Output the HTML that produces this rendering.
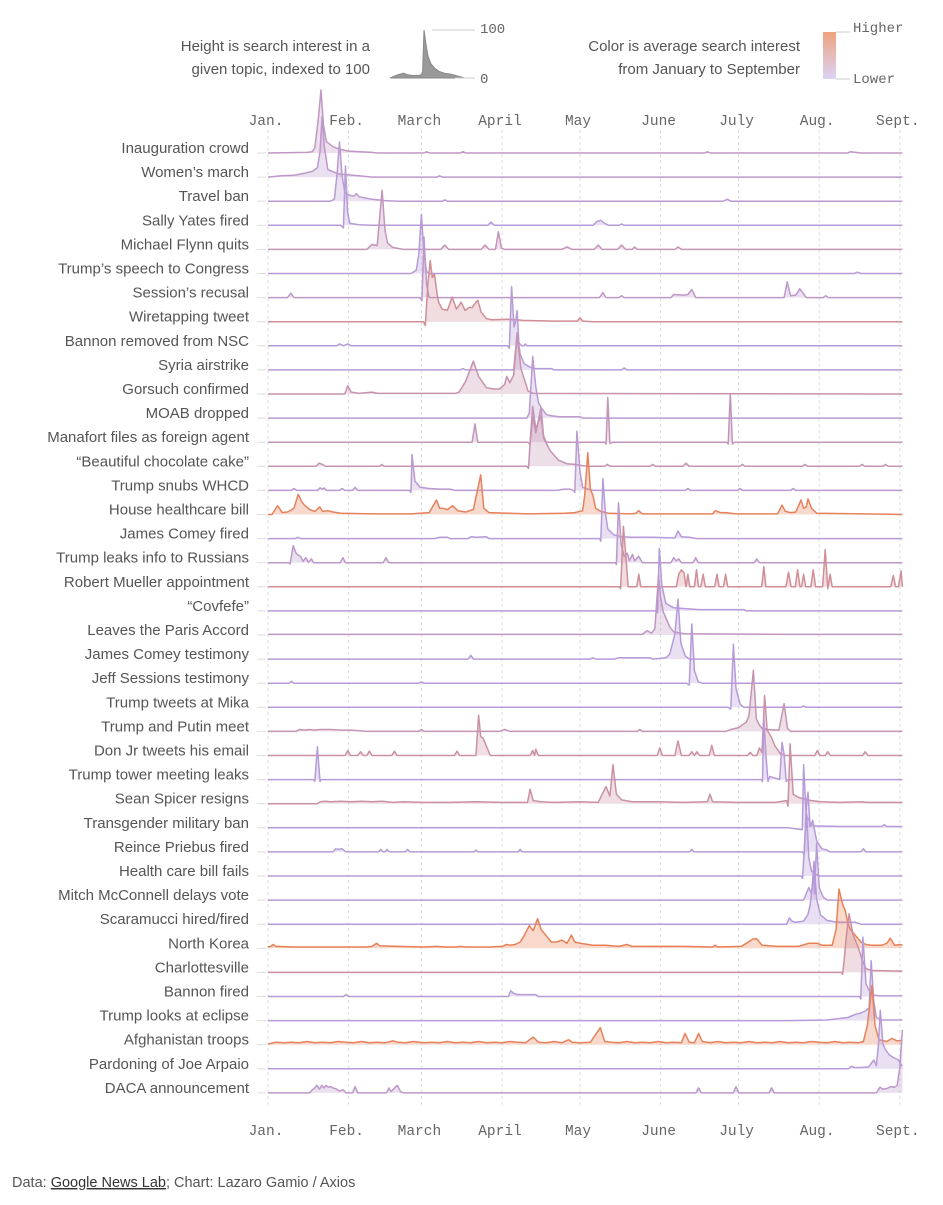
<!DOCTYPE html>
<html><head><meta charset="utf-8">
<style>
html,body{margin:0;padding:0;background:#fff;}
body{width:943px;height:1200px;overflow:hidden;font-family:"Liberation Sans",sans-serif;}
svg text{font-family:"Liberation Sans",sans-serif;}
.mono{font-family:"Liberation Mono",monospace;}
</style></head>
<body>
<svg id="chart" width="943" height="1200" viewBox="0 0 943 1200" xmlns="http://www.w3.org/2000/svg">
  <g id="legend">
    <text x="370" y="51" text-anchor="end" font-size="15" fill="#555">Height is search interest in a</text>
    <text x="370" y="74" text-anchor="end" font-size="15" fill="#555">given topic, indexed to 100</text>
    <g id="legendMini"></g>
    <line x1="432" y1="30" x2="475" y2="30" stroke="#ccc"/>
    <line x1="455" y1="78" x2="475" y2="78" stroke="#ccc"/>
    <text class="mono" x="480" y="33" font-size="14" fill="#666">100</text>
    <text class="mono" x="480" y="83" font-size="14" fill="#666">0</text>
    <text x="800" y="51" text-anchor="end" font-size="15" fill="#555">Color is average search interest</text>
    <text x="800" y="74" text-anchor="end" font-size="15" fill="#555">from January to September</text>
    <defs><linearGradient id="cg" x1="0" y1="0" x2="0" y2="1"><stop offset="0" stop-color="#eea27e"/><stop offset="1" stop-color="#dcd3f6"/></linearGradient></defs>
    <rect x="823" y="32" width="13" height="47" fill="url(#cg)"/>
    <line x1="836" y1="32" x2="850" y2="32" stroke="#ccc"/>
    <line x1="836" y1="79" x2="850" y2="79" stroke="#ccc"/>
    <text class="mono" x="853" y="32" font-size="14" fill="#666">Higher</text>
    <text class="mono" x="853" y="83" font-size="14" fill="#666">Lower</text>
  </g>
  <g id="grid"></g>
  <g id="axisTop"></g>
  <g id="axisBottom"></g>
  <g id="rows"></g>
  <text x="12" y="1187" font-size="14.5" fill="#555">Data: <tspan text-decoration="underline" fill="#333">Google News Lab</tspan>; Chart: Lazaro Gamio / Axios</text>
</svg>
<script>
const monthLabels = ["Jan.","Feb.","March","April","May","June","July","Aug.","Sept."];
const monthDays = [0,31,59,90,120,151,181,212,243];
const labels = ["Inauguration crowd","Women\u2019s march","Travel ban","Sally Yates fired","Michael Flynn quits","Trump\u2019s speech to Congress","Session\u2019s recusal","Wiretapping tweet","Bannon removed from NSC","Syria airstrike","Gorsuch confirmed","MOAB dropped","Manafort files as foreign agent","\u201cBeautiful chocolate cake\u201d","Trump snubs WHCD","House healthcare bill","James Comey fired","Trump leaks info to Russians","Robert Mueller appointment","\u201cCovfefe\u201d","Leaves the Paris Accord","James Comey testimony","Jeff Sessions testimony","Trump tweets at Mika","Trump and Putin meet","Don Jr tweets his email","Trump tower meeting leaks","Sean Spicer resigns","Transgender military ban","Reince Priebus fired","Health care bill fails","Mitch McConnell delays vote","Scaramucci hired/fired","North Korea","Charlottesville","Bannon fired","Trump looks at eclipse","Afghanistan troops","Pardoning of Joe Arpaio","DACA announcement"];
const avgInterest = [.25,.2,.15,.1,.3,.1,.2,.55,.1,.1,.4,.15,.3,.35,.15,.95,.1,.2,.55,.1,.25,.1,.1,.1,.35,.45,.1,.45,.1,.1,.1,.1,.1,1,.5,.1,.1,.95,.1,.2];
const legendSample = [0,0, 10,6, 20,10, 25,7, 35,5, 45,6, 48,12, 50,100, 53,70, 56,45, 60,30, 66,20, 72,14, 80,10, 90,8, 100,4, 110,0];

const s00=[15,1,17,2,18,8,19.5,60,20.4,100,21.3,45,22.5,18,25,10,27.5,6,31,3,40,1,42,0,60,0,61,2,62,0,74,0,75,2,76,0,168,0,169,2,170,0,223,0,224,2,226,1,228,0];
const s01=[5,2,10,3,14,6,17,9,19,15,20,40,20.8,96,21.6,50,23,12,27,5,35,2,40,0,65,0,66,2,67,0];
const s02=[24,0,25.5,3,26.5,40,27.5,94,28.5,40,29.5,15,31,10,33,8,34,12,35,7,40,3,45,1,50,0,67,0,68,2,69,0,175,0,176.7,3,178,0];
const s03=[28,0,29,-4,29.8,94,30.6,20,31.5,3,35,1,40,0,84.5,0,85.8,5,87,0,125,0,126.5,6,128,8,129.5,3,131,0,135,0,136,2,137,0];
const s04=[38,0,40,8,42,6,43.9,94,45,30,46,10,48,3,52,0,66.5,0,68,7,69.5,0,82,0,83.5,7,85,0,87.5,0,88.6,28,89.8,2,91,0,113,0,115,4,117,0,125.5,0,127,7,128.5,0,134.5,0,136,7,137.5,0,140,0,141,4,142,0,156.5,0,157.7,4,159,0];
const s05=[55,0,57,5,58,30,59,94,60,30,61,3,62,0,225.5,0,226.7,2,228,0];
const s06=[7.5,0,8.8,7,10,0,58.5,0,59.2,-5,60,96,61,20,62,0,127.5,0,128.8,8,130,0,135,0,136,3,137,0,155,0,156,5,160,4,161.5,5,163,13,164.5,0,198.5,0,199.7,25,201,3,203,4,204.5,14,206,6,207,0,213.5,0,214.5,3,215.5,0];
const s07=[59.8,0,60.5,-6,61.5,60,62.4,97,63.2,70,64,76,65,45,65.6,31,67,20,69,18,70.8,39,72.5,20,74.3,31,75.8,18,77.5,23,78.5,22,79.8,30,80.7,34,82,15,84,5,86,3,92,4,96,3,98,2,110,1,119,1,120,6,121,1,125,0];
const s08=[26.5,0,27.5,3,29,0,30.7,3,32,0,92.2,0,92.8,-4,93.7,94,94.6,30,95.3,40,95.8,56,96.5,5,97.5,0,98.5,0,99,3,99.5,0];
const s09=[74,0,75,2,76,0,94.5,0,95.8,59,97,25,98.5,10,100.5,5,103,2,109,2,110,0,136,0,137,3,138,0];
const s10=[29.5,0,30.7,13,32,3,35,1,40,3,42,1,72,1,73.5,3,76,20,79,52,81,28,84,10,87,8,89,8,91,15,91.8,28,93,18,94.5,30,95.8,94,97.3,40,99,18,100,5,102,1];
const s11=[99.5,0,100.5,8,101.8,98,103,50,104,25,105,17,107,6,108.5,4,112,2,120,2,121,0];
const s12=[78.5,0,79.6,29,80.7,0,100,0,100.8,-4,101.8,40,103,15,105,55,106,10,107,0,129.5,0,130,-3,130.7,71,131.5,-2,132.5,0,176.5,0,177,-3,177.8,77,178.6,-3,179.5,0];
const s13=[18.5,0,19.6,5,21,3,22,0,43,0,43.8,3,44.6,0,99.5,0,100.2,-3,101,50,101.8,95,103,60,104,70,105,80,106,45,108.5,25,111.6,10,115,4,118,3,121,1,124,0,129.5,0,130.5,3,131.5,0,147,0,148,3,149,0,159.5,0,160.8,5,162,0,181.5,0,182.5,3,183.5,0,205.5,0,206.5,3,207.5,0,227.5,0,228.5,3,229.5,0,236.5,0,237.5,3,238.5,0];
const s14=[9,0,10,3,11,0,19,0,20,4,21,2,21.5,4,22.5,0,27.5,0,28.5,3,29.5,0,32.5,0,33.5,5,34.5,0,54.5,0,55,-3,55.4,57,56.5,15,58.5,5,62,3,66,2,70,2,72,0,111,0,114,2,116,2,117.5,0,118,-3,118.8,94,120,30,121,5,123,2,125,0,160.5,0,161.5,3,162.5,0,180.5,0,181.5,3,182.5,0,201,0,202,3,203,0];
const s15=[1.5,0,3.7,14,5.5,3,7.5,4,8.8,7,10,10,11.6,32,13,20,14,15,16,8,18,5,19.9,12,21,5,23,6,25,4,28,2,40,1,55,1,62,3,64.8,23,66,10,67,10,69,8,71,14,73,6,76,4,79,8,81.8,63,83,10,85,3,100,1,114,2,118,3,121,6,121.8,30,123,98,124,40,125,30,126,10,128,5,131,2,140,1,141.5,2,142.6,6,144,1,171,1,172,6,174,3,176,3,180,1,196,1,197.7,15,199,5,201,3,203,4,205,23,206,10,207,12,207.7,25,209,10,211,2,244,0];
const s16=[10.5,0,11.5,2,12.5,0,64,0,66,2,69,2,70,0,77,0,78,3,80,2,84,3,85,0,127.5,0,128,-4,128.8,95,129.8,40,130.7,15,133,6,136,3,140,2,148,2,156.5,1,157.7,12,159,3,162,2,165,0];
const s17=[8,0,8.5,-2,9.7,27,10.8,15,11.6,12,12.5,10,13.5,2,14.5,8,15.5,1,16.7,6,17.5,0,27.8,0,28.8,8,29.8,0,44.3,0,45.4,8,46.5,0,133.6,0,134,-3,134.8,95,135.8,30,137,10,138.2,15,139,3,140.2,13,141,3,142.6,10,144,0,155,0,156,8,157,3,158,6,159,0,163.5,0,164.5,8,165.5,0,187,0,188,6,189,0];
const s18=[135.2,0,135.6,-3,136.7,96,137.8,40,138.5,0,141.8,0,142.6,20,143.4,0,157,0,158,20,159,27,160,22,160.8,0,161.5,20,162.2,0,164,0,164.8,27,165.6,0,166.5,0,167.4,20,168.2,0,171.8,0,172.7,20,173.5,0,175.2,0,176,20,176.8,0,189.9,0,190.7,32,191.5,0,199.2,0,200.2,23,201.2,0,202.8,0,203.7,27,204.6,0,205.2,0,206,20,206.8,0,208.8,0,209.7,27,210.6,0,213.3,0,214.3,59,215.3,-3,216.2,20,217,0,239.5,0,240.5,18,241.4,0,242.5,0,243.5,25,244,0];
const s19=[149.3,0,149.8,-3,150.5,99,151.5,40,153,12,156,5,162.4,3,166,2,183,2,184,0];
const s20=[0,1,30,1,60,1,90,1,120,1,144,1,145.8,7,147.5,3,148.8,10,150.2,95,151,60,152,37,154.5,13,156,5,160,2,200,1,244,1];
const s21=[77,0,78,6,79,0,124,0,125,2,126,0,133,0,135,2,145,2,147,2,148,0,153,2,154.5,8,156.5,40,157.7,95,158.8,25,160.5,5,162,0];
const s22=[8,0,9,3,10,0,58,0,59,2,60,0,161,0,162,-3,163,94,164,20,165.5,2,167,0];
const s23=[177,0,178,-3,179,100,180,30,181.6,5,183,0,205,0,206,2,207,0];
const s24=[11,0,12,3,14,2,16,3,18,2,20,3,24,3,28,2,32,2,38,0,58,0,59,3,60,0,89,0,91,3,93,0,142,0,143,3,144,0,176,0,178,3,181,6,184,15,185,25,186.7,97,187.8,20,189,10,190,5,192,3,196.5,2,198.5,44,199.8,5,201,0];
const s25=[29.7,0,30.7,8,31.7,0,34.5,0,35.6,6,36.6,0,38,0,39,7,40,0,47.6,0,48.6,7,49.6,0,71.7,0,72.7,7,73.7,0,80,0,81,64,81.8,30,82.7,28,84.5,10,85.5,0,100.8,0,101.8,8,102.5,0,103,10,104,0,149.7,0,150.7,12,151.7,0,156.5,0,157.7,23,159,0,162,0,163,6,164,0,165,6,166,0,169.7,0,170.7,16,171.7,0,184.5,0,185.5,5,186.5,0,188,0,189,12,190,5,191,95,192,40,193.5,30,195,15,197,3,199,0,210.3,0,211.3,8,212.3,0,214.3,0,215.3,6,216.3,0,228.7,0,229.7,6,230.7,0];
const s26=[17.5,0,18,-3,19,52,20,-3,20.5,0,189.8,0,190.2,-3,190.7,99,191.5,40,192.3,-3,193,5,196.8,0,197.7,59,198.5,40,199.3,-3,200,0];
const s27=[19,0,20,3,22,4,24,3,28,4,32,3,36,4,40,3,44,4,48,2,52,3,60,2,70,2,80,3,90,2,99.8,2,100.8,23,102,5,105,3,110,2,120,3,127,2,128.5,15,130,27,131.5,12,132.7,62,134,15,136,6,140,3,150,3,160,2,169,3,170,15,171,3,180,2,195,2,199.5,5,200,-4,200.8,95,202,15,204,10,209,5,213,3,220,2,229,3,230,2,244,2];
const s28=[200,0,205.5,-3,206,100,207,20,209,5,210,3,220,2,236,2,237,5,238,2,244,2];
const s29=[25,0,26,5,27,4,28.5,5,30,0,42.5,0,43.4,4,44.2,0,45,0,45.8,4,46.6,0,52.8,0,53.7,4,54.6,0,79.2,0,80,3,80.8,0,96.2,0,97,4,97.8,0,162.2,0,163,4,163.8,0,205.5,0,206.2,-4,207,70,207.7,95,208.5,40,209.5,50,211,18,213,5,215,3,216,0,228,0,229,5,230,0];
const s30=[205,0,205.6,-4,206.5,60,207.2,98,208,30,209,8,210.5,3,212,0];
const s31=[206,0,207,10,208,20,209,10,209.8,40,210.2,10,211,90,212,20,213.5,5,215,0];
const s32=[199.5,0,200.5,10,201.5,5,203,3,206,5,207.6,15,208.5,30,209.3,60,210,100,211,40,212.5,15,215,6,218,4,221,3,226,3,228,0];
const s33=[0,2,1,3,2,6,3,3,10,2,20,2,30,2,38,2,40,3,41.8,8,43,4,50,3,60,2,65,3,68,2,72,2,74,3,76,2,85,2,90,3,91.8,6,93,5,95,6,97,10,98.5,20,100.5,36,102,28,103.7,47,105,30,107,20,109,10,111,10,113,13,115,8,116.7,21,118,10,120,8,125,5,130,5,135,3,138,6,140,3,150,3,160,3,171,2,172,5,173,2,182,3,184,8,186.6,15,188,15,190,5,196,3,204,3,208,8,211.3,8,213,5,217,5,218.5,30,219.6,94,221,70,222,60,223,40,224,30,226,20,228,10,230,6,232,5,236,5,238,8,239.4,16,241,5,243,6,244,5];
const s34=[220.6,0,221,-3,221.6,20,222.5,60,223.5,93,225,60,227,40,228.5,20,230,6,232,3,244,2];
const s35=[29,0,30,3,31,0,92.5,0,93.4,9,94.5,5,96,3,100,3,103,3,104,0,227.5,0,228,-4,228.8,94,230,20,232,3,235,1,244,1];
const s36=[200,0,215,1,223,5,226,10,228,12,230,16,231.2,20,232,95,233,30,234,5,236,1,244,1];
const s37=[0,1,3,4,6,3,9,4,12,3,15,5,18,3,21,4,24,3,27,5,30,4,33,3,36,5,39,3,42,4,45,3,48,6,50,4,53,3,56,5,60,3,63,4,66,3,69,5,72,3,75,4,78,3,81,5,84,3,87,4,90,3,93,5,96,4,99,3,102,12,104,4,107,3,110,5,113,3,115.6,8,117,4,120,3,124,4,127.8,27,129.5,5,132,4,135,3,138,5,141,3,144,4,147,3,150,5,153,3,156,4,159,3,160.4,18,162,4,164,3,165.6,18,167,5,170,3,173,5,176,3,179,4,182,3,185,5,188,3,191,4,194,3,197,5,200,3,203,4,206,3,209,5,212,4,215,3,218,5,221,3,224,4,227,3,229,5,230.5,30,232.3,94,233.5,30,235,8,238,5,240,10,242,6,244,7];
const s38=[223.3,0,224.3,4,225.5,2,228,2,231,3,233,14,234,5,234.8,40,235.5,93,236.5,40,237.5,30,239,22,240.5,18,242.5,14,243.5,6,244,5];
const s39=[16,0,17,5,18,8,18.8,12,19.8,6,20.7,12,21.5,8,22.3,12,23.2,9,24,10,25,8,26.3,6,27.5,3,29,5,30,0,32.5,0,33.5,10,34.5,0,45.6,0,46.5,8,47.3,2,48,5,49.7,12,51,2,52,0,164.6,0,165.6,8,166.6,0,179,0,180,10,181,0,192.7,0,193.7,8,194.7,0,234,0,235.4,9,236.5,6,238,7,239.5,10,241,9,242,12,243,40,244,100];

const series = [s00,s01,s02,s03,s04,s05,s06,s07,s08,s09,s10,s11,s12,s13,s14,s15,s16,s17,s18,s19,s20,s21,s22,s23,s24,s25,s26,s27,s28,s29,s30,s31,s32,s33,s34,s35,s36,s37,s38,s39];

const NS = "http://www.w3.org/2000/svg";
const X0 = 268, PX_PER_DAY = 2.6, END_DAY = 244;
const ROW0 = 153, ROW_STEP = 24.1, H_SCALE = 0.63;
function xScale(d){ return X0 + d*PX_PER_DAY; }
function rowBase(i){ return ROW0 + i*ROW_STEP; }
function yScale(i, v){ return rowBase(i) - v*H_SCALE; }
function mix(t){
  const lo=[178,158,230], hi=[232,128,86];
  return 'rgb('+lo.map((c,k)=>Math.round(c+(hi[k]-c)*t)).join(',')+')';
}
function el(tag, attrs, parent){
  const e=document.createElementNS(NS,tag);
  for(const k in attrs) e.setAttribute(k, attrs[k]);
  parent.appendChild(e); return e;
}

const grid=document.getElementById('grid');
const axT=document.getElementById('axisTop');
const axB=document.getElementById('axisBottom');
monthDays.forEach((d,i)=>{
  const x=xScale(d);
  const g=el('line',{x1:x,y1:130,x2:x,y2:1105,stroke:'#ddd','stroke-dasharray':'3,3'},grid);
  
  
  const t1=el('text',{x:x-2,y:125,'text-anchor':'middle','font-size':14.5,fill:'#666',class:'mono'},axT);
  t1.textContent=monthLabels[i];
  
  
  const t2=el('text',{x:x-2,y:1135,'text-anchor':'middle','font-size':14.5,fill:'#666',class:'mono'},axB);
  t2.textContent=monthLabels[i];
  
  
});

const rowsG=document.getElementById('rows');
series.forEach((s,i)=>{
  const g=el('g',{},rowsG);
  
  
  const base=rowBase(i);
  const lab=el('text',{x:249,y:base,'text-anchor':'end','font-size':15,fill:'#555'},g);
  lab.textContent=labels[i];
  
  
  const tk=el('line',{x1:257,y1:base,x2:266,y2:base,stroke:'#ddd'},g);
  
  
  const pts=[];
  if(s[0]>0) pts.push([0,0]);
  for(let k=0;k<s.length;k+=2) pts.push([s[k],s[k+1]]);
  if(pts[pts.length-1][0]<END_DAY) pts.push([END_DAY,0]);
  let d='M'+xScale(pts[0][0]).toFixed(1)+','+yScale(i,pts[0][1]).toFixed(1);
  for(let k=1;k<pts.length;k++) d+=' L'+xScale(pts[k][0]).toFixed(1)+','+yScale(i,pts[k][1]).toFixed(1);
  const col=mix(avgInterest[i]);
  const fillD=d+' L'+xScale(pts[pts.length-1][0]).toFixed(1)+','+base+' L'+xScale(pts[0][0]).toFixed(1)+','+base+' Z';
  const f=el('path',{d:fillD,fill:col,'fill-opacity':0.3,stroke:'none'},g);
  
  
  const l=el('path',{d:d,fill:'none',stroke:col,'stroke-width':1.5,'stroke-linejoin':'round'},g);
  
  
});

const lm=document.getElementById('legendMini');
(function(){
  const lx=v=>390+v*0.68, ly=v=>78-v*0.48;
  let d='M'+lx(legendSample[0])+','+ly(legendSample[1]);
  for(let k=2;k<legendSample.length;k+=2) d+=' L'+lx(legendSample[k]).toFixed(1)+','+ly(legendSample[k+1]).toFixed(1);
  d+=' Z';
  const p=el('path',{d:d,fill:'#999',stroke:'#888','stroke-width':1},lm);
  
  
})();
</script>
</body></html>
